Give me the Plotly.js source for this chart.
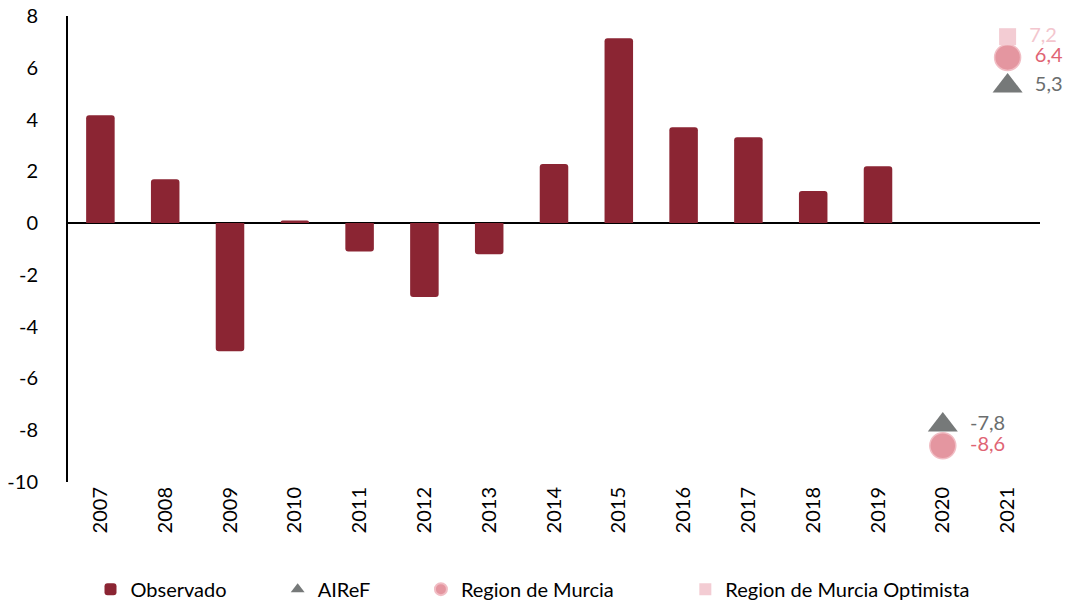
<!DOCTYPE html>
<html><head><meta charset="utf-8">
<script src="https://cdn.plot.ly/plotly-3.0.1.min.js"></script>
<style>body{margin:0}#chart{width:1066px;height:606px}</style>
</head><body><div id="chart"></div>
<script>
var years = ['2007','2008','2009','2010','2011','2012','2013','2014','2015','2016','2017','2018','2019','2020','2021'];
var observado = [4.17, 1.69, -4.95, 0.1, -1.1, -2.85, -1.2, 2.28, 7.14, 3.7, 3.32, 1.24, 2.2, null, null];
var airef = [null,null,null,null,null,null,null,null,null,null,null,null,null,-7.8,5.3];
var murcia = [null,null,null,null,null,null,null,null,null,null,null,null,null,-8.6,6.4];
var optimista = [null,null,null,null,null,null,null,null,null,null,null,null,null,null,7.2];
var airefLbl = ['','','','','','','','','','','','','','-7,8','5,3'];
var murciaLbl = ['','','','','','','','','','','','','','-8,6','6,4'];
var optLbl = ['','','','','','','','','','','','','','','7,2'];
var yTicks = [-10,-8,-6,-4,-2,0,2,4,6,8];
var seriesNames = ['Observado','AIReF','Region de Murcia','Region de Murcia Optimista'];

var font = 'Lato, "Open Sans", sans-serif';
var pad = function(s, n){ return s + '\u00a0'.repeat(n); };
var lead = function(arr){ return arr.map(function(s){ return s ? '\u2002' + s : ''; }); };
var data = [
  {type:'bar', x:years, y:observado, name:pad(seriesNames[0],9), marker:{color:'#8B2533', cornerradius:3}, width:0.44},
  {type:'scatter', mode:'markers+text', x:years, y:airef, name:pad(seriesNames[1],9),
   marker:{symbol:'triangle-up', size:26, color:'#767979'}, text:lead(airefLbl), textposition:'middle right',
   textfont:{color:'#6B6E6E', size:20, family:font}, cliponaxis:false},
  {type:'scatter', mode:'markers+text', x:years, y:murcia, name:pad(seriesNames[2],13),
   marker:{symbol:'circle', size:26, color:'#E496A0', line:{color:'#F1BDC4', width:1.5}}, text:lead(murciaLbl), textposition:'middle right',
   textfont:{color:'#DF6474', size:20, family:font}, cliponaxis:false},
  {type:'scatter', mode:'markers+text', x:years, y:optimista, name:seriesNames[3],
   marker:{symbol:'square', size:17, color:'#F3CCD3'}, text:lead(optLbl), textposition:'middle right',
   textfont:{color:'#F3C6CE', size:20, family:font}, cliponaxis:false}
];
var layout = {
  width:1066, height:606,
  margin:{l:68, r:26, t:16, b:124, autoexpand:false},
  paper_bgcolor:'#fff', plot_bgcolor:'#fff',
  font:{family:font, size:20, color:'#000'},
  showlegend:true,
  legend:{orientation:'h', xref:'container', x:0.5, xanchor:'center', yref:'container', y:0.06, yanchor:'top',
    traceorder:'normal', font:{size:20, color:'#000'}, itemsizing:'constant'},
  xaxis:{type:'category', range:[-0.5,14.5], tickangle:-90, showline:false, showgrid:false, zeroline:false, ticks:'',
    tickfont:{size:20, color:'#000'}, fixedrange:true},
  yaxis:{range:[-10,8], tickvals:yTicks, ticktext:yTicks.map(String), showgrid:false,
    showline:true, linecolor:'#000', linewidth:2, zeroline:true, zerolinecolor:'#000', zerolinewidth:2,
    ticks:'', ticklabelstandoff:24, tickfont:{size:20, color:'#000'}, fixedrange:true},
  bargap:0.56
};
Plotly.newPlot('chart', data, layout, {staticPlot:true});
</script></body></html>
